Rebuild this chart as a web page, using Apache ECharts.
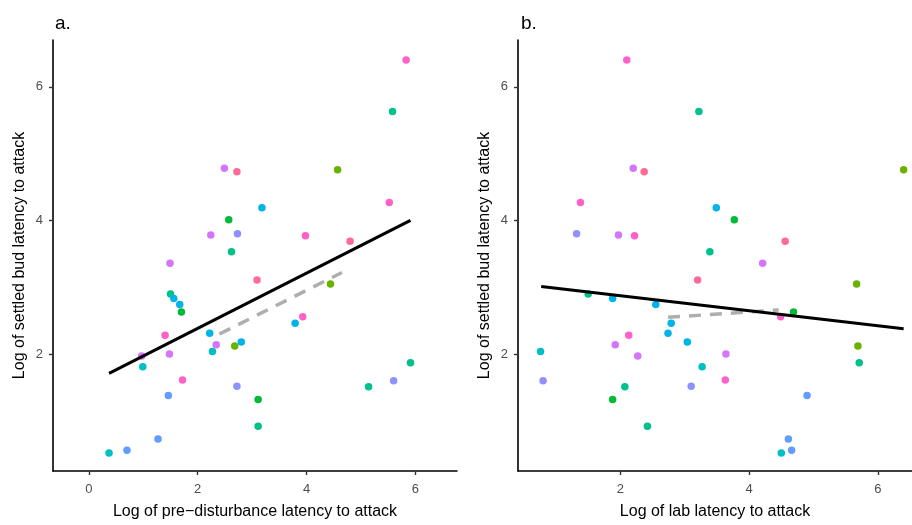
<!DOCTYPE html>
<html>
<head>
    <meta charset="UTF-8">
    <title>Settled bud latency</title>
    <script type="text/javascript" src="https://cdn.jsdelivr.net/npm/echarts@6.0.0/dist/echarts.min.js"></script>
    <style>
        *{margin:0;padding:0}
        html,body{width:100%;height:100%;background:#fff}
        #main{width:912px;height:525px}
    </style>
</head>
<body>
<div id="main"></div>

<script type="text/javascript">
    // y for both panels
    var settled = [6.40,5.63,4.78,4.73,4.76,4.27,4.19,4.01,3.78,3.80,3.77,3.69,3.53,3.36,3.11,3.05,2.90,2.83,2.74,2.63,2.56,2.46,2.28,2.31,2.14,2.18,2.12,2.04,1.97,2.00,1.81,1.61,1.52,1.51,1.60,1.87,1.38,1.32,0.92,0.73,0.56,0.52];
    // x panel a
    var preDist = [5.83,5.58,2.49,2.72,4.57,5.52,3.18,2.57,2.24,2.73,3.98,4.80,2.62,1.49,3.09,4.44,1.50,1.56,1.67,1.70,3.93,3.79,1.40,2.22,2.34,2.80,2.68,2.27,0.97,1.48,0.99,1.72,2.72,5.14,5.60,5.91,1.46,3.11,3.11,1.27,0.70,0.37];
    // x panel b
    var lab = [2.10,3.22,2.20,2.37,6.40,1.38,3.49,3.77,1.97,1.32,2.22,4.56,3.39,4.21,3.20,5.67,1.50,1.88,2.55,4.69,4.49,2.79,2.13,2.74,1.92,3.04,5.69,0.76,2.27,3.64,3.27,3.63,3.10,2.07,0.80,5.71,4.90,1.88,2.42,4.61,4.66,4.50];
    // group of each point (index in palette)
    var group = [8,2,7,9,0,8,4,1,7,6,8,9,2,7,9,0,2,4,4,1,8,4,8,4,7,4,0,3,7,7,3,8,6,2,6,2,5,1,2,5,5,3];
    var palette = ['#6BB100','#00BA38','#00C08B','#00BFC4','#00B4E8','#619CFF','#8F91FF','#D575FE','#FF61C9','#FF6A98'];

    // fitted lines (end points)
    var fitA = [[0.37,1.71],[5.91,4.00]];
    var fitDashA = [[2.40,2.30],[4.65,3.22]];
    var fitB = [[0.77,3.01],[6.40,2.38]];
    var fitDashB = [[2.74,2.55],[4.46,2.66]];

    var ticks = [0,2,4,6];
    var ticksB = [2,4,6];

    var font = 'Liberation Sans, Arial, sans-serif';

    function makeX(idx, min, max, name, tv) {
        return {
            type: 'value', gridIndex: idx, min: min, max: max,
            name: name, nameLocation: 'middle', nameGap: 33,
            nameTextStyle: {fontFamily: font, fontSize: 16, color: '#000'},
            axisLine: {show: true, onZero: false, lineStyle: {color: '#000', width: 1.6}},
            axisTick: {show: true, length: 4, customValues: tv, lineStyle: {color: '#333', width: 1.4}},
            axisLabel: {customValues: tv, fontFamily: font, fontSize: 13, color: '#4D4D4D', margin: 12},
            splitLine: {show: false}
        };
    }
    function makeY(idx) {
        return {
            type: 'value', gridIndex: idx, min: 0.25, max: 6.70,
            name: 'Log of settled bud latency to attack', nameLocation: 'middle', nameGap: 25,
            nameTextStyle: {fontFamily: font, fontSize: 16, color: '#000'},
            axisLine: {show: true, onZero: false, lineStyle: {color: '#000', width: 1.6}},
            axisTick: {show: true, length: 4, customValues: [2,4,6], lineStyle: {color: '#333', width: 1.4}},
            axisLabel: {customValues: [2,4,6], fontFamily: font, fontSize: 13, color: '#4D4D4D', margin: 10},
            splitLine: {show: false}
        };
    }

    var series = [];
    function addPoints(idx, xs) {
        for (var g = 0; g < palette.length; g++) {
            var pts = [];
            for (var i = 0; i < settled.length; i++) {
                if (group[i] === g) pts.push([xs[i], settled[i]]);
            }
            series.push({
                type: 'scatter', xAxisIndex: idx, yAxisIndex: idx,
                symbolSize: 7.5, data: pts,
                itemStyle: {color: palette[g], opacity: 1},
                z: 2
            });
        }
    }
    function addLine(idx, d, color, dashed) {
        series.push({
            type: 'line', xAxisIndex: idx, yAxisIndex: idx, data: d,
            showSymbol: false, symbol: 'none', silent: true,
            lineStyle: {color: color, width: dashed ? 3.5 : 3, type: dashed ? [12, 9] : 'solid'},
            z: dashed ? 3 : 4
        });
    }
    addPoints(0, preDist);
    addPoints(1, lab);
    addLine(0, fitDashA, '#AEAEAE', true);
    addLine(0, fitA, '#000', false);
    addLine(1, fitDashB, '#AEAEAE', true);
    addLine(1, fitB, '#000', false);

    var option = {
        backgroundColor: '#fff',
        animation: false,
        title: [
            {text: 'a.', left: 50, top: 9, textStyle: {fontFamily: font, fontSize: 19, fontWeight: 'normal', color: '#000'}},
            {text: 'b.', left: 516, top: 9, textStyle: {fontFamily: font, fontSize: 19, fontWeight: 'normal', color: '#000'}}
        ],
        grid: [
            {left: 53, top: 40, width: 404, height: 431, outerBoundsMode: 'none', containLabel: false},
            {left: 518, top: 40, width: 394, height: 431, outerBoundsMode: 'none', containLabel: false}
        ],
        xAxis: [
            makeX(0, -0.66, 6.765, 'Log of pre\u2212disturbance latency to attack', ticks),
            makeX(1, 0.41, 6.53, 'Log of lab latency to attack', ticksB)
        ],
        yAxis: [makeY(0), makeY(1)],
        series: series
    };

    var myChart = echarts.init(document.getElementById('main'));
    myChart.setOption(option);
</script>
</body>
</html>
